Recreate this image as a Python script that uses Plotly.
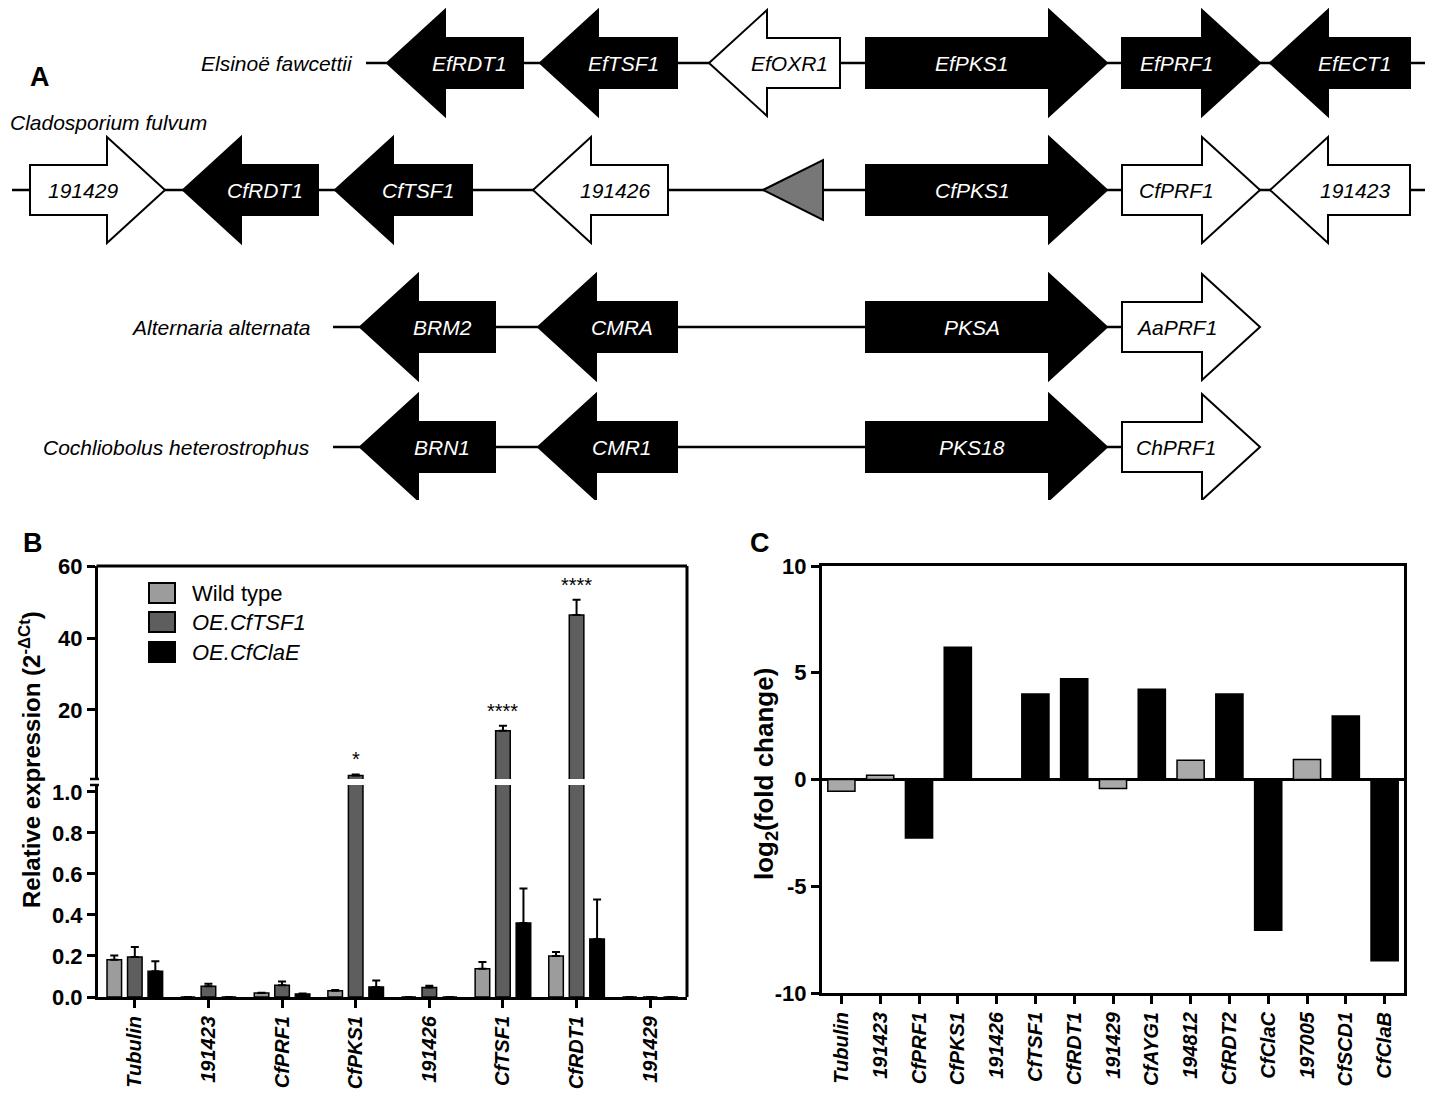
import plotly.graph_objects as go

W, H = 1439, 1093
FONT = "Liberation Sans"

# ---------------- Panel A data (gene cluster maps, positions in map units) ----------------
species = ["Elsinoë fawcettii", "Cladosporium fulvum", "Alternaria alternata", "Cochliobolus heterostrophus"]

ef_genes = ["EfRDT1", "EfTSF1", "EfOXR1", "EfPKS1", "EfPRF1", "EfECT1"]
ef_left = [387, 540, 709, 866, 1122, 1270]
ef_right = [523, 677, 840, 1107, 1260, 1410]
ef_strand = [-1, -1, -1, 1, 1, -1]
ef_core = [1, 1, 0, 1, 1, 1]

cf_genes = ["191429", "CfRDT1", "CfTSF1", "191426", "CfPKS1", "CfPRF1", "191423"]
cf_left = [30, 183, 335, 533, 866, 1122, 1270]
cf_right = [165, 318, 472, 668, 1107, 1260, 1410]
cf_strand = [1, -1, -1, -1, 1, 1, -1]
cf_core = [0, 1, 1, 0, 1, 0, 0]
cf_element = [763, 823]  # grey triangle element (left, right)

aa_genes = ["BRM2", "CMRA", "PKSA", "AaPRF1"]
aa_left = [360, 538, 866, 1122]
aa_right = [495, 677, 1107, 1260]
aa_strand = [-1, -1, 1, 1]
aa_core = [1, 1, 1, 0]

ch_genes = ["BRN1", "CMR1", "PKS18", "ChPRF1"]
ch_left = [360, 538, 866, 1122]
ch_right = [495, 677, 1107, 1260]
ch_strand = [-1, -1, 1, 1]
ch_core = [1, 1, 1, 0]

backbone = [[366, 1425], [12, 1425], [333, 1122], [333, 1122]]

# ---------------- Panel B data ----------------
b_cats = ["Tubulin", "191423", "CfPRF1", "CfPKS1", "191426", "CfTSF1", "CfRDT1", "191429"]
wt_val = [0.182, 0.0, 0.019, 0.031, 0.0, 0.138, 0.200, 0.0]
wt_err = [0.020, 0.0, 0.002, 0.003, 0.0, 0.033, 0.020, 0.0]
tsf_val = [0.195, 0.052, 0.057, 1.8, 0.046, 14.2, 46.4, 0.0]
tsf_err = [0.049, 0.013, 0.019, 0.3, 0.009, 1.4, 4.2, 0.0]
clae_val = [0.125, 0.0, 0.015, 0.049, 0.0, 0.361, 0.283, 0.0]
clae_err = [0.049, 0.0, 0.002, 0.032, 0.0, 0.168, 0.192, 0.0]
signif = ["", "", "", "*", "", "****", "****", ""]
series_names = ["Wild type", "OE.CfTSF1", "OE.CfClaE"]

# ---------------- Panel C data ----------------
c_cats = ["Tubulin", "191423", "CfPRF1", "CfPKS1", "191426", "CfTSF1", "CfRDT1", "191429",
          "CfAYG1", "194812", "CfRDT2", "CfClaC", "197005", "CfSCD1", "CfClaB"]
c_val = [-0.55, 0.2, -2.74, 6.19, 0.0, 4.0, 4.72, -0.42, 4.23, 0.9, 4.0, -7.06, 0.94, 2.98, -8.49]
c_cluster = [0, 0, 1, 1, 1, 1, 1, 0, 1, 0, 1, 1, 0, 1, 1]


def px(p):
    return p / W


def py(p):
    return 1 - p / H


fig = go.Figure()

# ---------------- Panel B bars (broken axis: lower y, upper y2) ----------------
colors_b = ["#9c9c9c", "#5e5e5e", "#000000"]
vals_b = [wt_val, tsf_val, clae_val]
errs_b = [wt_err, tsf_err, clae_err]
for name, v, e, c in zip(series_names, vals_b, errs_b, colors_b):
    low_err = [ee if vv < 1 else 0 for vv, ee in zip(v, e)]
    up_err = [ee if vv >= 1 else 0 for vv, ee in zip(v, e)]
    fig.add_trace(go.Bar(
        x=b_cats, y=v, name=name, xaxis="x", yaxis="y", showlegend=False,
        marker=dict(color=c, line=dict(color="black", width=1.5)),
        error_y=dict(type="data", symmetric=False, array=low_err, arrayminus=[0] * len(v),
                     color="black", thickness=2, width=4, visible=True),
    ))
    fig.add_trace(go.Bar(
        x=b_cats, y=v, name=name, xaxis="x", yaxis="y2", showlegend=False,
        marker=dict(color=c, line=dict(color="black", width=1.5)),
        error_y=dict(type="data", symmetric=False, array=up_err, arrayminus=[0] * len(v),
                     color="black", thickness=2, width=4, visible=True),
    ))

# ---------------- Panel C bars ----------------
fig.add_trace(go.Bar(
    x=c_cats, y=c_val, xaxis="x2", yaxis="y3", showlegend=False, width=0.7,
    marker=dict(color=["#000000" if k else "#a9a9a9" for k in c_cluster],
                line=dict(color="black", width=1.5)),
))

# dummy trace to create panel A axes
fig.add_trace(go.Scatter(x=[None], y=[None], xaxis="x3", yaxis="y4", showlegend=False, hoverinfo="skip"))

shapes = []
annotations = []

# ---------------- Panel A drawing ----------------
row_y = [63, 190, 327, 447]
HEAD = 58
HH = 53
BH = 25
rows = [
    (ef_genes, ef_left, ef_right, ef_strand, ef_core),
    (cf_genes, cf_left, cf_right, cf_strand, cf_core),
    (aa_genes, aa_left, aa_right, aa_strand, aa_core),
    (ch_genes, ch_left, ch_right, ch_strand, ch_core),
]
for (genes, lefts, rights, strands, cores), yc, bb in zip(rows, row_y, backbone):
    shapes.append(dict(type="line", xref="x3", yref="y4", x0=bb[0], x1=bb[1], y0=yc, y1=yc,
                       line=dict(color="black", width=2.5)))
    for g, l, r, s, k in zip(genes, lefts, rights, strands, cores):
        if s > 0:
            hb = r - HEAD
            path = (f"M {l},{yc-BH} L {hb},{yc-BH} L {hb},{yc-HH} L {r},{yc} "
                    f"L {hb},{yc+HH} L {hb},{yc+BH} L {l},{yc+BH} Z")
            body_c = (l + hb) / 2
        else:
            hb = l + HEAD
            path = (f"M {r},{yc-BH} L {hb},{yc-BH} L {hb},{yc-HH} L {l},{yc} "
                    f"L {hb},{yc+HH} L {hb},{yc+BH} L {r},{yc+BH} Z")
            body_c = (hb + r) / 2
        fill = "black" if k else "white"
        shapes.append(dict(type="path", xref="x3", yref="y4", path=path,
                           fillcolor=fill, line=dict(color="black", width=2)))
        lx = (body_c + (l + r) / 2) / 2
        annotations.append(dict(x=lx, y=yc, xref="x3", yref="y4", text=f"<i>{g}</i>",
                                showarrow=False, xanchor="center", yanchor="middle",
                                font=dict(family=FONT, size=21, color="white" if k else "black")))

# grey triangle element in C. fulvum
yc = row_y[1]
shapes.append(dict(type="path", xref="x3", yref="y4",
                   path=f"M {cf_element[0]},{yc} L {cf_element[1]},{yc-30} L {cf_element[1]},{yc+30} Z",
                   fillcolor="#777777", line=dict(color="black", width=2)))

# species labels
annotations += [
    dict(x=355, y=row_y[0], xref="x3", yref="y4", text=f"<i>{species[0]}</i>", showarrow=False,
         xanchor="right", yanchor="middle", font=dict(family=FONT, size=21, color="black")),
    dict(x=8, y=122, xref="x3", yref="y4", text=f"<i>{species[1]}</i>", showarrow=False,
         xanchor="left", yanchor="middle", font=dict(family=FONT, size=21, color="black")),
    dict(x=312, y=row_y[2], xref="x3", yref="y4", text=f"<i>{species[2]}</i>", showarrow=False,
         xanchor="right", yanchor="middle", font=dict(family=FONT, size=21, color="black")),
    dict(x=312, y=row_y[3], xref="x3", yref="y4", text=f"<i>{species[3]}</i>", showarrow=False,
         xanchor="right", yanchor="middle", font=dict(family=FONT, size=21, color="black")),
]

# panel letters
for letter, x, y in [("A", 40, 77), ("B", 33, 543), ("C", 760, 543)]:
    annotations.append(dict(x=px(x), y=py(y), xref="paper", yref="paper", text=f"<b>{letter}</b>",
                            showarrow=False, xanchor="center", yanchor="middle",
                            font=dict(family=FONT, size=27, color="black")))

# ---------------- Panel B frame, break marks, legend, stars ----------------
BL, BR, BT, BB = 98, 687, 566, 997
shapes.append(dict(type="line", xref="paper", yref="paper", x0=px(BL - 1.5), x1=px(BR), y0=py(BT), y1=py(BT),
                   line=dict(color="black", width=3)))
shapes.append(dict(type="line", xref="paper", yref="paper", x0=px(BR), x1=px(BR), y0=py(BT), y1=py(BB),
                   line=dict(color="black", width=3)))
for yy in (779, 785):
    shapes.append(dict(type="line", xref="paper", yref="paper", x0=px(BL - 8), x1=px(BL + 1), y0=py(yy), y1=py(yy),
                       line=dict(color="black", width=2.5)))

leg_y = [593, 622, 652]
leg_text = ["Wild type", "<i>OE.CfTSF1</i>", "<i>OE.CfClaE</i>"]
for yy, c, t in zip(leg_y, colors_b, leg_text):
    shapes.append(dict(type="rect", xref="paper", yref="paper", x0=px(149), x1=px(175),
                       y0=py(yy - 10), y1=py(yy + 10), fillcolor=c, line=dict(color="black", width=2)))
    annotations.append(dict(x=px(190), y=py(yy), xref="paper", yref="paper", text=t, showarrow=False,
                            xanchor="left", yanchor="middle", font=dict(family=FONT, size=22, color="black")))

for cat, s, v, e in zip(b_cats, signif, tsf_val, tsf_err):
    if s:
        annotations.append(dict(x=cat, y=v + e, xref="x", yref="y2", text=s, showarrow=False,
                                xanchor="center", yanchor="bottom", yshift=2,
                                font=dict(family=FONT, size=20, color="black")))

# axis titles
annotations.append(dict(x=px(30), y=py(760), xref="paper", yref="paper",
                        text="<b>Relative expression (2<sup>-ΔCt</sup>)</b>", textangle=-90,
                        showarrow=False, xanchor="center", yanchor="middle",
                        font=dict(family=FONT, size=24, color="black")))
annotations.append(dict(x=px(765), y=py(774), xref="paper", yref="paper",
                        text="<b>log<sub>2</sub>(fold change)</b>", textangle=-90,
                        showarrow=False, xanchor="center", yanchor="middle",
                        font=dict(family=FONT, size=26, color="black")))

ytickfont = dict(family=FONT, size=22, color="black")
xtickfont = dict(family=FONT, size=20, color="black")
axis_common = dict(showgrid=False, ticks="outside", ticklen=8, tickwidth=2.5, tickcolor="black",
                   showline=True, linewidth=3, linecolor="black", automargin=False)

b_low_ticks = [0, 0.2, 0.4, 0.6, 0.8, 1.0]
b_up_ticks = [20, 40, 60]
c_ticks = [-10, -5, 0, 5, 10]

fig.update_layout(
    width=W, height=H, margin=dict(l=0, r=0, t=0, b=0, pad=0, autoexpand=False),
    paper_bgcolor="white", plot_bgcolor="white",
    barmode="group", bargap=0.164, bargroupgap=0.29,
    shapes=shapes, annotations=annotations,
    xaxis=dict(domain=[px(BL), px(BR)], anchor="y", type="category", categoryorder="array",
               categoryarray=b_cats, tickvals=b_cats, tickfont=xtickfont,
               ticktext=[f"<b><i>{c}</i></b>" for c in b_cats], tickangle=-90, **axis_common),
    yaxis=dict(domain=[py(997), py(785)], range=[0, 1.034], anchor="x", zeroline=False, tickfont=ytickfont,
               tickvals=b_low_ticks, ticktext=[f"<b>{t:.1f}</b>" for t in b_low_ticks], **axis_common),
    yaxis2=dict(domain=[py(779), py(566)], range=[0.83, 60], anchor="x", zeroline=False, tickfont=ytickfont,
                tickvals=b_up_ticks, ticktext=[f"<b>{t}</b>" for t in b_up_ticks], **axis_common),
    xaxis2=dict(domain=[px(822), px(1404)], anchor="y3", type="category", categoryorder="array",
                categoryarray=c_cats, tickvals=c_cats, mirror=True, tickfont=xtickfont,
                ticktext=[f"<b><i>{c}</i></b>" for c in c_cats], tickangle=-90, **axis_common),
    yaxis3=dict(domain=[py(993), py(566)], range=[-10, 10], anchor="x2", mirror=True, tickfont=ytickfont,
                zeroline=True, zerolinecolor="black", zerolinewidth=2.5,
                tickvals=c_ticks, ticktext=[f"<b>{t}</b>" for t in c_ticks], **axis_common),
    xaxis3=dict(domain=[0, 1], range=[0, W], anchor="y4", visible=False, fixedrange=True),
    yaxis4=dict(domain=[py(500), 1], range=[500, 0], anchor="x3", visible=False, fixedrange=True),
)

fig.write_html("out.html", config={"displayModeBar": False},
               post_script="document.body.style.margin='0px';document.body.style.overflow='hidden';")
